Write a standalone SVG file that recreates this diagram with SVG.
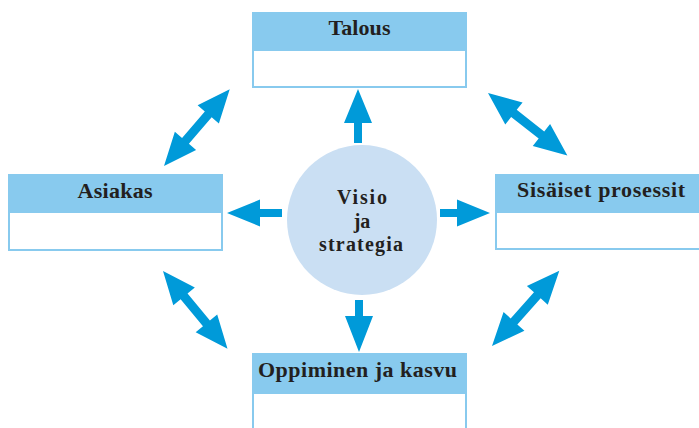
<svg xmlns="http://www.w3.org/2000/svg" width="699" height="428" viewBox="0 0 699 428">
<defs>
<style>
.box{fill:#ffffff;stroke:#88caee;stroke-width:2}
.hdr{fill:#88caee}
.lbl{font-family:"Liberation Serif","Times New Roman",serif;font-size:22px;font-weight:bold;fill:#231f20;text-anchor:middle}
.ctr{font-size:20px}
.arr{fill:#009ad9}
</style>
<path id="dbl" d="M0,0 L33,-14 L33,-4.5 L68,-4.5 L68,-14 L101,0 L68,14 L68,4.5 L33,4.5 L33,14 Z"/>
</defs>
<rect width="699" height="428" fill="#ffffff"/>

<g id="talous">
<rect class="box" x="253" y="13" width="213" height="74"/>
<rect class="hdr" x="252" y="12" width="215" height="39"/>
<text class="lbl" x="359.5" y="35" textLength="62" lengthAdjust="spacing">Talous</text>
</g>

<g id="asiakas">
<rect class="box" x="9" y="175" width="213" height="75"/>
<rect class="hdr" x="8" y="174" width="215" height="39"/>
<text class="lbl" x="115" y="198" textLength="75" lengthAdjust="spacing">Asiakas</text>
</g>

<g id="sisaiset">
<rect class="box" x="496" y="175" width="206" height="74"/>
<rect class="hdr" x="495" y="174" width="206" height="39"/>
<text class="lbl" x="601" y="197" textLength="168" lengthAdjust="spacing">Sisäiset prosessit</text>
</g>

<g id="oppiminen">
<rect class="box" x="253" y="354" width="213" height="80"/>
<rect class="hdr" x="252" y="353" width="215" height="41"/>
<text class="lbl" x="357.5" y="377" textLength="199" lengthAdjust="spacing">Oppiminen ja kasvu</text>
</g>

<g id="visio">
<circle cx="362" cy="220" r="75" fill="#cadff3"/>
<text class="lbl ctr" x="362" y="204" textLength="50" lengthAdjust="spacing">Visio</text>
<text class="lbl ctr" x="362" y="228">ja</text>
<text class="lbl ctr" x="361" y="251" textLength="84" lengthAdjust="spacing">strategia</text>
</g>

<g id="connectors" class="arr">
<polygon points="354,143 354,123 344,123 358,89 372,123 362,123 362,143"/>
<polygon points="282,209 260,209 260,199.5 227,213 260,226.5 260,217 282,217"/>
<polygon points="440,209 457,209 457,199.5 490,213 457,226.5 457,217 440,217"/>
<polygon points="355,300 355,316 345,316 359,352 373,316 363,316 363,300"/>
<use href="#dbl" transform="translate(164,166) rotate(-49.4)"/>
<use href="#dbl" transform="translate(488,93) rotate(38.2)"/>
<use href="#dbl" transform="translate(163,271) rotate(50.3)"/>
<use href="#dbl" transform="translate(492,346) rotate(-48.2)"/>
</g>
</svg>
